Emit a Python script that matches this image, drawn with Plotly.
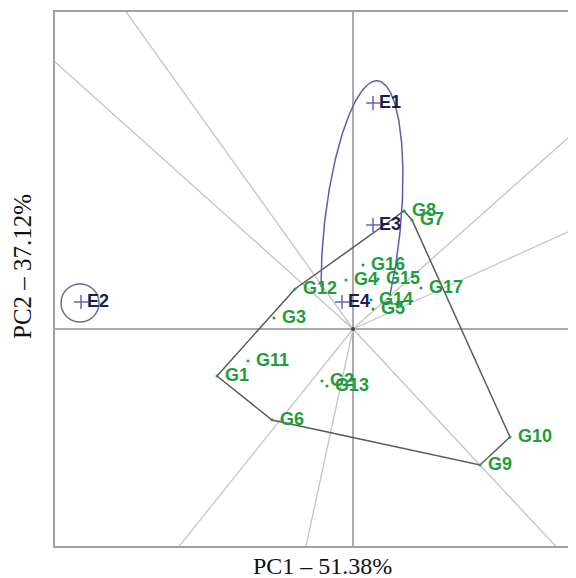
import numpy as np
import plotly.graph_objects as go

# ---------------- data ----------------
genotypes = ["G1", "G2", "G3", "G4", "G5", "G6", "G7", "G8", "G9", "G10",
             "G11", "G12", "G13", "G14", "G15", "G16", "G17"]
gen_pc1 = [-1.36, -0.31, -0.79, -0.07, 0.20, -0.81, 0.59, 0.51, 1.27, 1.57,
           -1.05, -0.58, -0.26, 0.18, 0.25, 0.10, 0.68]
gen_pc2 = [-0.47, -0.52, 0.11, 0.49, 0.20, -0.91, 1.09, 1.18, -1.36, -1.08,
           -0.32, 0.40, -0.57, 0.29, 0.50, 0.64, 0.41]

environments = ["E1", "E2", "E3", "E4"]
env_pc1 = [0.20, -2.72, 0.20, -0.11]
env_pc2 = [2.26, 0.27, 1.04, 0.27]

x_title = "PC1 – 51.38%"
y_title = "PC2 – 37.12%"

# ---------------- styles ----------------
GREEN = "#1f9c3c"
NAVY = "#1c1c55"
PLUS = "#6c64a8"
HULL = "#5a5a5a"
RAY = "#c4c4c4"
AXIS = "#aaaaaa"
ELLIPSE = "#6659b0"
CIRCLE = "#6e6e88"

XR = [-2.98, 2.23]
YR = [-2.17, 3.17]

# ---------------- convex hull (which-won-where polygon) ----------------
pts = sorted(zip(gen_pc1, gen_pc2))


def cross(o, a, b):
    return (a[0] - o[0]) * (b[1] - o[1]) - (a[1] - o[1]) * (b[0] - o[0])


lower, upper = [], []
for p in pts:
    while len(lower) >= 2 and cross(lower[-2], lower[-1], p) <= 0:
        lower.pop()
    lower.append(p)
for p in reversed(pts):
    while len(upper) >= 2 and cross(upper[-2], upper[-1], p) <= 0:
        upper.pop()
    upper.append(p)
hull = lower[:-1] + upper[:-1]
hull_closed = hull + [hull[0]]

fig = go.Figure()

# rays perpendicular to hull edges
for i in range(len(hull)):
    p1 = np.array(hull[i])
    p2 = np.array(hull[(i + 1) % len(hull)])
    d = p2 - p1
    t = -np.dot(p1, d) / np.dot(d, d)
    foot = p1 + t * d
    n = foot / np.linalg.norm(foot)
    end = n * 10
    fig.add_trace(go.Scatter(x=[0, end[0]], y=[0, end[1]], mode="lines",
                             line=dict(color=RAY, width=1.3),
                             hoverinfo="skip", showlegend=False))

# hull polygon
fig.add_trace(go.Scatter(x=[p[0] for p in hull_closed], y=[p[1] for p in hull_closed],
                         mode="lines", line=dict(color=HULL, width=1.5),
                         hoverinfo="skip", showlegend=False))

# mega-environment ellipse (open loop) around E1/E3
cx, cy, a, b = 0.09, 0.99, 0.38, 1.50
v = np.array([0.105, 0.994]); v = v / np.linalg.norm(v)
u = np.array([v[1], -v[0]])
tt = np.radians(np.linspace(-24, 204, 200))
ex = cx + a * np.cos(tt) * u[0] + b * np.sin(tt) * v[0]
ey = cy + a * np.cos(tt) * u[1] + b * np.sin(tt) * v[1]
fig.add_trace(go.Scatter(x=ex, y=ey, mode="lines", line=dict(color=ELLIPSE, width=1.5),
                         hoverinfo="skip", showlegend=False))

# circle around E2
r = 0.19
fig.add_shape(type="circle", xref="x", yref="y",
              x0=-2.73 - r, x1=-2.73 + r, y0=0.26 - r, y1=0.26 + r,
              line=dict(color=CIRCLE, width=1.5))

# genotype markers
fig.add_trace(go.Scatter(x=gen_pc1, y=gen_pc2, mode="markers",
                         marker=dict(color=GREEN, size=3),
                         hoverinfo="skip", showlegend=False))
# origin dot
fig.add_trace(go.Scatter(x=[0], y=[0], mode="markers",
                         marker=dict(color="#2d5a2d", size=4),
                         hoverinfo="skip", showlegend=False))
# environment markers
fig.add_trace(go.Scatter(x=env_pc1, y=env_pc2, mode="markers",
                         marker=dict(symbol="cross-thin", size=10, color=PLUS,
                                     line=dict(color=PLUS, width=1.5)),
                         hoverinfo="skip", showlegend=False))

annotations = []
for name, x, y in zip(genotypes, gen_pc1, gen_pc2):
    annotations.append(dict(x=x, y=y, xref="x", yref="y", text=name, showarrow=False,
                            xanchor="left", yanchor="middle", xshift=8, yshift=1,
                            borderpad=0, borderwidth=0,
                            font=dict(family="Liberation Sans, Arial", size=18,
                                      color=GREEN, weight="bold")))
for name, x, y in zip(environments, env_pc1, env_pc2):
    annotations.append(dict(x=x, y=y, xref="x", yref="y", text=name, showarrow=False,
                            xanchor="left", yanchor="middle", xshift=6, yshift=1,
                            borderpad=0, borderwidth=0,
                            font=dict(family="Liberation Sans, Arial", size=18,
                                      color=NAVY, weight="bold")))

annotations.append(dict(x=0.5125, y=-0.0375, xref="paper", yref="paper", text=x_title,
                        showarrow=False, xanchor="center", yanchor="middle",
                        font=dict(family="Liberation Serif, Times New Roman", size=24,
                                  color="#111111")))
annotations.append(dict(x=-0.0614, y=0.5225, xref="paper", yref="paper", text=y_title,
                        showarrow=False, xanchor="center", yanchor="middle", textangle=-90,
                        font=dict(family="Liberation Serif, Times New Roman", size=25,
                                  color="#111111")))

fig.update_layout(
    width=568, height=570,
    margin=dict(l=47, r=0, t=4, b=32),
    plot_bgcolor="white", paper_bgcolor="white",
    annotations=annotations,
    showlegend=False,
)
fig.update_xaxes(range=XR, showgrid=False, showticklabels=False, ticks="",
                 zeroline=True, zerolinecolor=AXIS, zerolinewidth=1.5,
                 showline=True, linecolor="#a0a0a0", linewidth=2, mirror=True)
fig.update_yaxes(range=YR, showgrid=False, showticklabels=False, ticks="",
                 zeroline=True, zerolinecolor=AXIS, zerolinewidth=1.5,
                 showline=True, linecolor="#a0a0a0", linewidth=2, mirror=False)

fig.write_html("out.html")
